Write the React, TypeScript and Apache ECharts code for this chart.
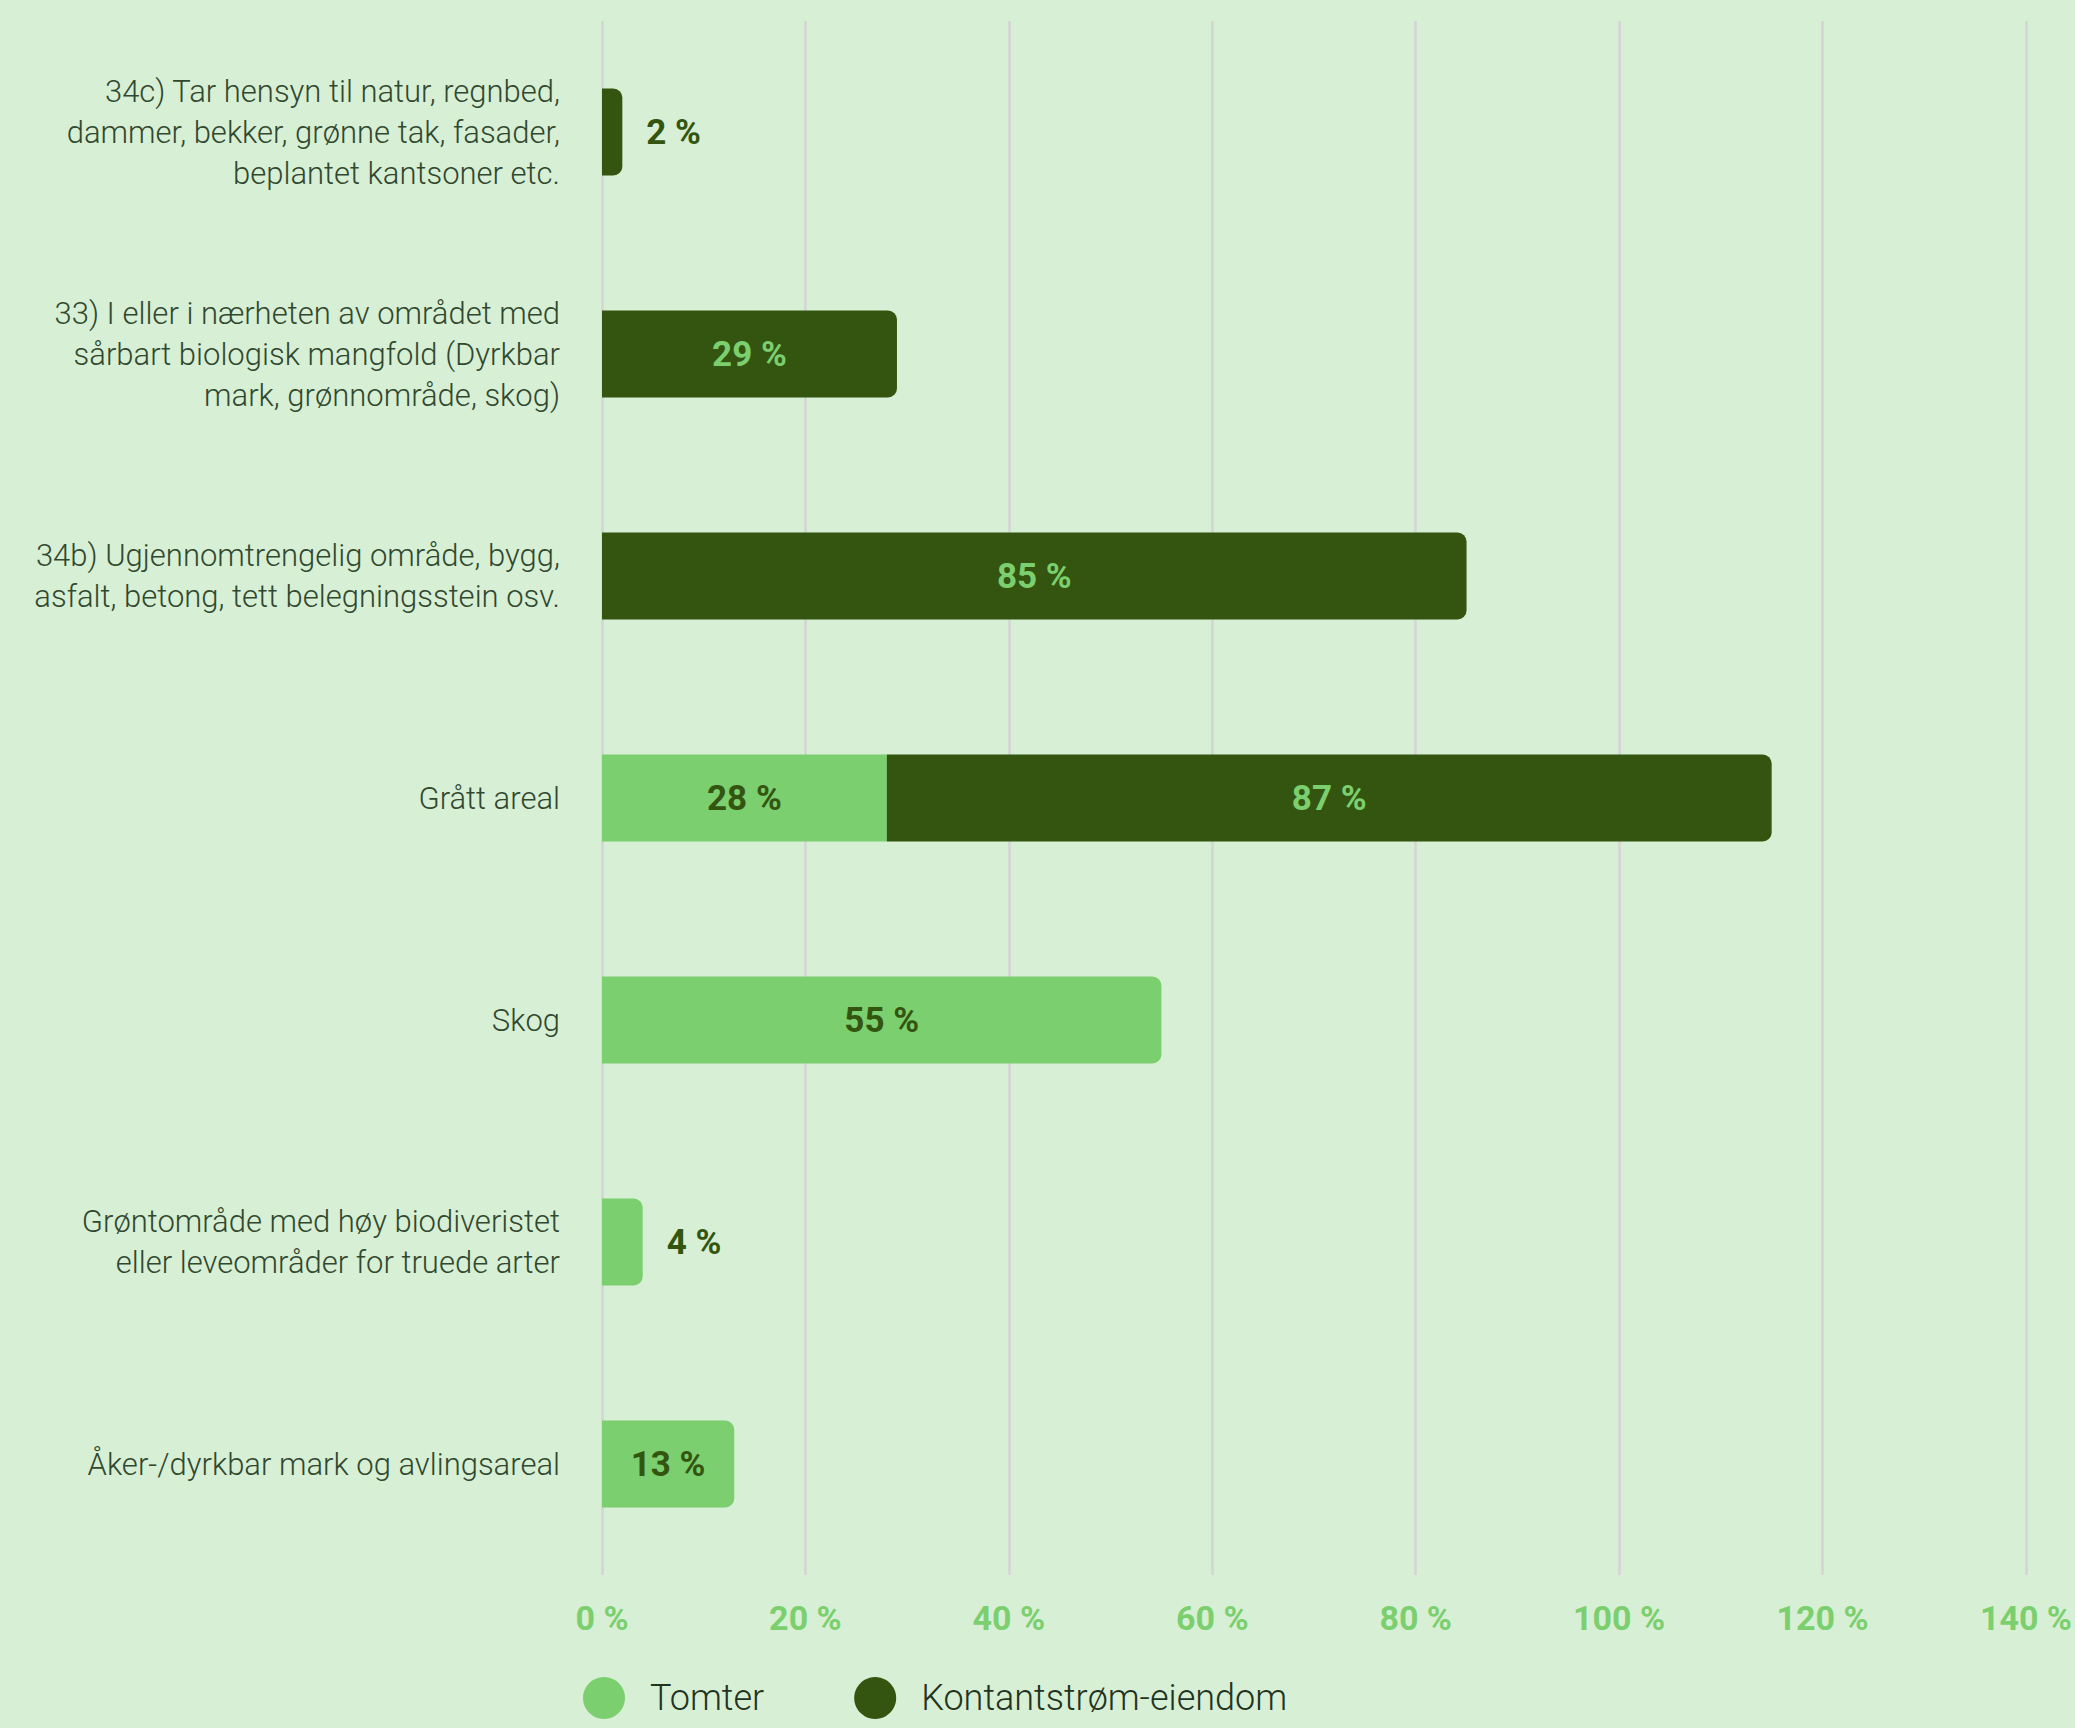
import React, { useEffect, useRef } from "react";
import * as echarts from "echarts";

const categories = [
  "34c) Tar hensyn til natur, regnbed,\ndammer, bekker, grønne tak, fasader,\nbeplantet kantsoner etc.",
  "33) I eller i nærheten av området med\nsårbart biologisk mangfold (Dyrkbar\nmark, grønnområde, skog)",
  "34b) Ugjennomtrengelig område, bygg,\nasfalt, betong, tett belegningsstein osv.",
  "Grått areal",
  "Skog",
  "Grøntområde med høy biodiveristet\neller leveområder for truede arter",
  "Åker-/dyrkbar mark og avlingsareal",
];
const seriesNames = ["Tomter", "Kontantstrøm-eiendom"];
const tomter: (number | null)[] = [null, null, null, 28, 55, 4, 13];
const kontant: (number | null)[] = [2, 29, 85, 87, null, null, null];
const axisMax = 140;
const axisInterval = 20;

const BG = "#d7efd4";
const LIGHT = "#7bcf6f";
const DARK = "#33550f";

export default function App() {
  const ref = useRef<HTMLDivElement>(null);
  useEffect(() => {
    if (!ref.current) return;
    const chart = echarts.init(ref.current, null, { renderer: "svg" });
    const valueFont = { fontFamily: "Roboto", fontWeight: 700 as const, fontSize: 35 };
    const mkData = (vals: (number | null)[], isLight: boolean) =>
      vals.map((v, i) => {
        if (v == null) return null;
        const stackedAfter = isLight && kontant[i] != null;
        const small = v < 8;
        return {
          value: v,
          itemStyle: { borderRadius: stackedAfter ? 0 : [0, 9, 9, 0] },
          label: small
            ? { position: "right", distance: 24, color: DARK }
            : { position: "inside", color: isLight ? DARK : LIGHT },
        };
      });
    chart.setOption({
      animation: false,
      backgroundColor: BG,
      grid: { left: 602, right: 45, top: 21, bottom: 153, containLabel: false },
      legend: {
        top: 1672,
        left: 578,
        icon: "circle",
        itemWidth: 42,
        itemHeight: 42,
        itemGap: 90,
        data: seriesNames,
        textStyle: {
          fontFamily: "Roboto",
          fontWeight: 300,
          fontSize: 36,
          lineHeight: 42,
          color: "#22331f",
          padding: [0, 0, 0, 20],
        },
      },
      xAxis: {
        type: "value",
        min: 0,
        max: axisMax,
        interval: axisInterval,
        axisLine: { show: false },
        axisTick: { show: false },
        splitLine: { show: true, lineStyle: { color: "#d4d4d4", width: 2.5 } },
        axisLabel: {
          formatter: (v: number) => `${v} %`,
          color: LIGHT,
          margin: 26,
          fontFamily: "Roboto",
          fontWeight: 700,
          fontSize: 34,
        },
      },
      yAxis: {
        type: "category",
        data: categories,
        inverse: true,
        axisLine: { show: false },
        axisTick: { show: false },
        axisLabel: {
          margin: 42,
          color: "#31482f",
          fontFamily: "Roboto",
          fontWeight: 300,
          fontSize: 31,
          lineHeight: 41,
          align: "right",
        },
      },
      series: [
        {
          name: seriesNames[0],
          type: "bar",
          stack: "s",
          barWidth: 87,
          color: LIGHT,
          data: mkData(tomter, true),
          label: { show: true, formatter: (p: any) => `${p.value} %`, ...valueFont },
        },
        {
          name: seriesNames[1],
          type: "bar",
          stack: "s",
          barWidth: 87,
          color: DARK,
          data: mkData(kontant, false),
          label: { show: true, formatter: (p: any) => `${p.value} %`, ...valueFont },
        },
      ],
    });
    return () => chart.dispose();
  }, []);
  return (
    <div
      ref={ref}
      style={{ position: "fixed", left: 0, top: 0, width: 2075, height: 1728 }}
    />
  );
}
